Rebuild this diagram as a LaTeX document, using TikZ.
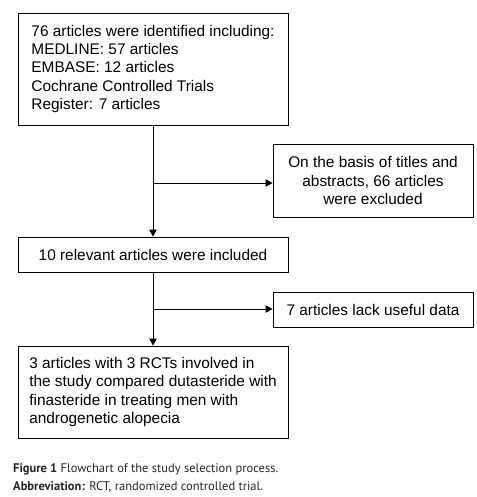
\documentclass[tikz,border=0pt]{standalone}
\usepackage{fontspec}
\setmainfont{Liberation Sans}
\newfontfamily\capfont{PT Sans}
\usetikzlibrary{arrows.meta}
\begin{document}
\begin{tikzpicture}[x=1pt,y=-1pt,
  box/.style={draw,line width=0.9pt,inner sep=0pt,font=\fontsize{15.4}{18.4}\selectfont},
  arr/.style={line width=0.9pt,-{Triangle[length=7pt,width=7.5pt]}},
  captext/.style={anchor=base west,inner sep=0pt,font=\capfont\fontsize{12.5}{15}\selectfont,text=black!85}]
\useasboundingbox (0,0) rectangle (476,497);
\node[box,minimum width=270pt,minimum height=112pt,align=left] (b1) at (153,69) {76 articles were identified including:\\MEDLINE: 57 articles\\EMBASE: 12 articles\\Cochrane Controlled Trials\\Register: 7 articles};
\node[box,minimum width=200pt,minimum height=73pt,align=center] (b2) at (373,180.5) {On the basis of titles and\\abstracts, 66 articles\\were excluded};
\node[box,minimum width=270pt,minimum height=35pt,align=center] (b3) at (153,254.5) {10 relevant articles were included};
\node[box,minimum width=200pt,minimum height=35pt,align=center] (b4) at (373,309.5) {7 articles lack useful data};
\node[box,minimum width=270pt,minimum height=92pt,align=left] (b5) at (153,392) {3 articles with 3 RCTs involved in\\the study compared dutasteride with\\finasteride in treating men with\\androgenetic alopecia};
\coordinate (j1) at (153,183);
\coordinate (j2) at (153,309);
\draw[arr] (b1.south) -- (b3.north);
\draw[arr] (j1) -- (j1 -| b2.west);
\draw[arr] (b3.south) -- (b5.north);
\draw[arr] (j2) -- (j2 -| b4.west);
\node[captext] (c1) at (13,472) {\textbf{Figure 1} Flowchart of the study selection process.};
\node[captext] (c2) at (13,490) {\textbf{Abbreviation:} RCT, randomized controlled trial.};
\end{tikzpicture}
\end{document}
